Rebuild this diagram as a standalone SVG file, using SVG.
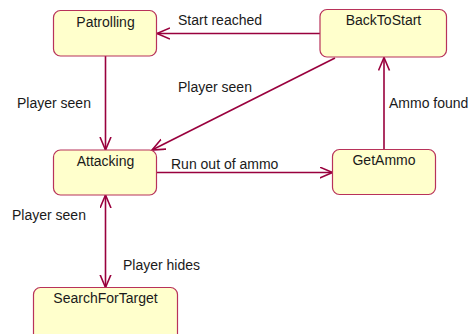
<svg xmlns="http://www.w3.org/2000/svg" width="470" height="334" viewBox="0 0 470 334">
<style>
.node rect{fill:#ffffcc;stroke:#b8325a;stroke-width:1.2}
.node text{font-family:"Liberation Sans",Arial,sans-serif;font-size:14px;fill:#1a1a1a;text-anchor:middle}
.lbl{font-family:"Liberation Sans",Arial,sans-serif;font-size:14px;fill:#1a1a1a}
.edge{stroke:#99003d;stroke-width:1.6;fill:none}
</style>
<defs>
<marker id="arr" markerUnits="userSpaceOnUse" markerWidth="16" markerHeight="14" refX="13" refY="6" orient="auto-start-reverse">
<path d="M0,0.5 L13,6 L0,11.5" fill="none" stroke="#99003d" stroke-width="1.6"/>
</marker>
</defs>
<rect width="470" height="334" fill="#ffffff"/>
<g id="connectors">
<line class="edge" x1="320" y1="33.5" x2="157" y2="33.5" marker-end="url(#arr)"/>
<line class="edge" x1="105.5" y1="56" x2="105.5" y2="150" marker-end="url(#arr)"/>
<line class="edge" x1="335" y1="58" x2="152" y2="150" marker-end="url(#arr)"/>
<line class="edge" x1="157" y1="172.5" x2="332.5" y2="172.5" marker-end="url(#arr)"/>
<line class="edge" x1="384" y1="149.5" x2="384" y2="57.5" marker-end="url(#arr)"/>
<line class="edge" x1="105.5" y1="195" x2="105.5" y2="287.5" marker-start="url(#arr)" marker-end="url(#arr)"/>
<text class="lbl" x="178" y="25">Start reached</text>
<text class="lbl" x="17" y="108">Player seen</text>
<text class="lbl" x="178" y="92">Player seen</text>
<text class="lbl" x="171" y="169">Run out of ammo</text>
<text class="lbl" x="389" y="108">Ammo found</text>
<text class="lbl" x="12" y="220">Player seen</text>
<text class="lbl" x="123" y="270">Player hides</text>
</g>
<g id="Patrolling" class="node">
<rect x="53.5" y="10.5" width="103" height="45.5" rx="7"/>
<text x="105.5" y="26.5">Patrolling</text>
</g>
<g id="BackToStart" class="node">
<rect x="320" y="9.5" width="126.5" height="47.5" rx="7"/>
<text x="383.5" y="25">BackToStart</text>
</g>
<g id="Attacking" class="node">
<rect x="53.5" y="150" width="103" height="45" rx="7"/>
<text x="105.5" y="165.5">Attacking</text>
</g>
<g id="GetAmmo" class="node">
<rect x="332.5" y="149.5" width="103" height="45" rx="7"/>
<text x="384" y="164.5">GetAmmo</text>
</g>
<g id="SearchForTarget" class="node">
<rect x="33.5" y="287.5" width="144" height="60" rx="7"/>
<text x="105.5" y="302.5">SearchForTarget</text>
</g>
</svg>
